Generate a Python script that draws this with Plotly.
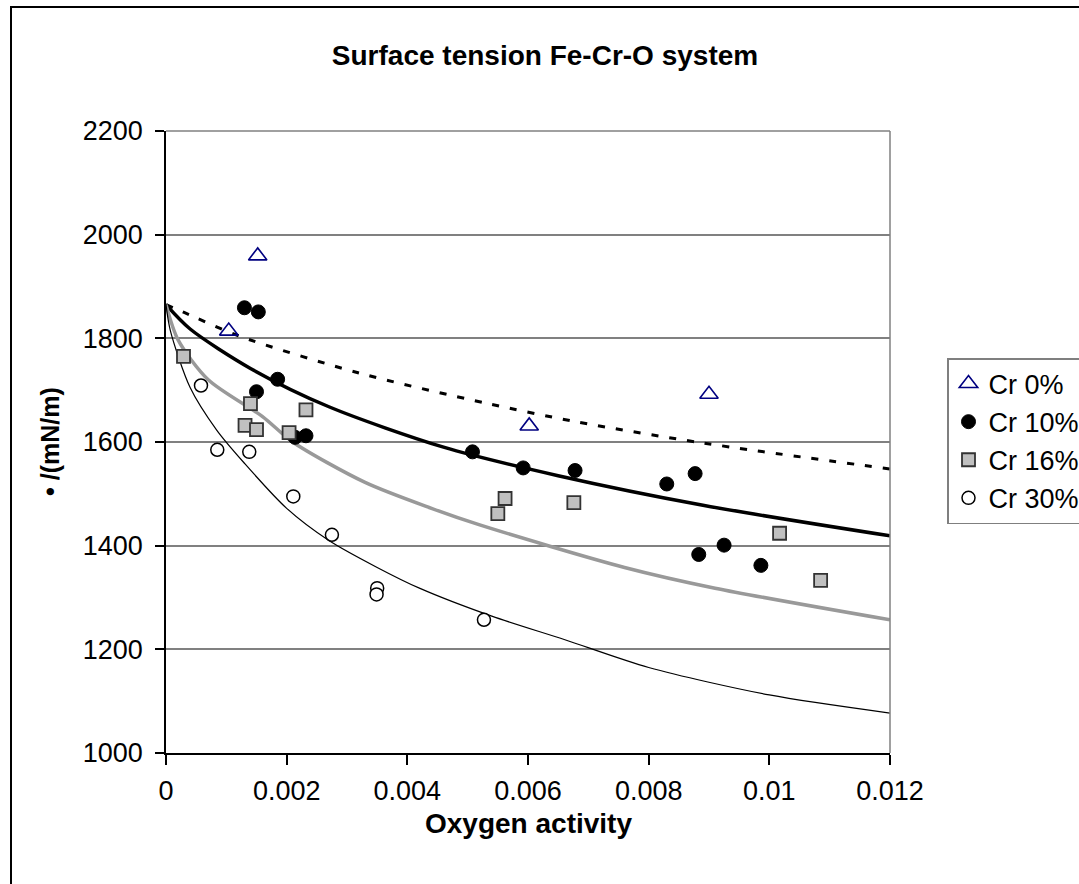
import plotly.graph_objects as go

# ---- data ----
cr0_x = [0.00104, 0.00152, 0.00602, 0.00900]
cr0_y = [1814, 1959, 1631, 1692]

cr10_x = [0.00130, 0.00153, 0.00185, 0.00150, 0.00232, 0.00214, 0.00508, 0.00592,
          0.00678, 0.00830, 0.00877, 0.00883, 0.00925, 0.00986]
cr10_y = [1859, 1851, 1721, 1697, 1612, 1609, 1581, 1550,
          1545, 1519, 1539, 1383, 1401, 1362]

cr16_x = [0.00029, 0.00140, 0.00232, 0.00131, 0.00150, 0.00204, 0.00562, 0.00550,
          0.00676, 0.01017, 0.01085]
cr16_y = [1765, 1674, 1662, 1632, 1624, 1618, 1491, 1462,
          1483, 1424, 1333]

cr30_x = [0.00058, 0.00085, 0.00138, 0.00211, 0.00275, 0.00350, 0.00349, 0.00527]
cr30_y = [1709, 1585, 1581, 1495, 1421, 1318, 1306, 1257]

# fitted curves
fit0_x = [0, 0.0003, 0.0012, 0.0032, 0.0053, 0.0068, 0.0089, 0.012]
fit0_y = [1865, 1850, 1805, 1733, 1675, 1639, 1598, 1548]

fit10_x = [0, 0.0004, 0.0014, 0.0027, 0.0046, 0.0065, 0.0089, 0.012]
fit10_y = [1865, 1818, 1742, 1668, 1590, 1535, 1478, 1419]

fit16_x = [0, 0.0002, 0.0007, 0.0016, 0.0021, 0.0033, 0.0044, 0.0052, 0.0076, 0.0091, 0.012]
fit16_y = [1865, 1797, 1720, 1649, 1600, 1522, 1472, 1440, 1358, 1318, 1257]

fit30_x = [0, 0.00007, 0.0004, 0.00084, 0.0013, 0.0020, 0.0027, 0.0035, 0.0042, 0.0054,
           0.0066, 0.0080, 0.0100, 0.0120]
fit30_y = [1865, 1816, 1705, 1623, 1559, 1472, 1410, 1358, 1318, 1264,
           1219, 1165, 1112, 1077]

x_ticks = [0, 0.002, 0.004, 0.006, 0.008, 0.01, 0.012]
x_tick_labels = ["0", "0.002", "0.004", "0.006", "0.008", "0.01", "0.012"]
y_ticks = [1000, 1200, 1400, 1600, 1800, 2000, 2200]

FONT = "Liberation Sans, Arial, sans-serif"

fig = go.Figure()

# curves
fig.add_trace(go.Scatter(x=fit0_x, y=fit0_y, mode="lines", showlegend=False,
                         line=dict(color="black", width=3, dash="7px,11px", shape="spline",
                                   smoothing=0.8), hoverinfo="skip"))
fig.add_trace(go.Scatter(x=fit10_x, y=fit10_y, mode="lines", showlegend=False,
                         line=dict(color="black", width=3.5, shape="spline", smoothing=0.8),
                         hoverinfo="skip"))
fig.add_trace(go.Scatter(x=fit16_x, y=fit16_y, mode="lines", showlegend=False,
                         line=dict(color="#999999", width=3.5, shape="spline", smoothing=0.8),
                         hoverinfo="skip"))
fig.add_trace(go.Scatter(x=fit30_x, y=fit30_y, mode="lines", showlegend=False,
                         line=dict(color="black", width=1.2, shape="spline", smoothing=0.8),
                         hoverinfo="skip"))

# data points
fig.add_trace(go.Scatter(x=cr0_x, y=cr0_y, mode="markers", name="Cr 0%",
                         marker=dict(symbol="triangle-up-open", size=16, color="#000080",
                                     line=dict(width=1.6, color="#000080"))))
fig.add_trace(go.Scatter(x=cr10_x, y=cr10_y, mode="markers", name="Cr 10%",
                         marker=dict(symbol="circle", size=14, color="black",
                                     line=dict(width=1, color="black"))))
fig.add_trace(go.Scatter(x=cr16_x, y=cr16_y, mode="markers", name="Cr 16%",
                         marker=dict(symbol="square", size=13, color="#C0C0C0",
                                     line=dict(width=1.8, color="#333333"))))
fig.add_trace(go.Scatter(x=cr30_x, y=cr30_y, mode="markers", name="Cr 30%",
                         marker=dict(symbol="circle", size=13, color="white",
                                     line=dict(width=1.5, color="black"))))

L, R, T, B = 166, 189, 131, 131
W, H = 1079, 884
pw, ph = W - L - R, H - T - B

def px(xp):
    return (xp - L) / pw

def py(yp):
    return (H - B - yp) / ph

fig.update_layout(
    width=W, height=H, autosize=False,
    margin=dict(l=L, r=R, t=T, b=B, pad=0, autoexpand=False),
    paper_bgcolor="white", plot_bgcolor="white",
    font=dict(family=FONT, color="black", size=27),
    title=dict(text="<b>Surface tension Fe-Cr-O system</b>", x=545 / W, xanchor="center",
               y=1 - 55 / H, yanchor="middle", xref="container", yref="container",
               font=dict(size=28, family=FONT, color="black")),
    showlegend=True,
    legend=dict(x=px(947), y=py(358), xanchor="left", yanchor="top",
                bgcolor="white", bordercolor="#7f7f7f", borderwidth=1.5,
                font=dict(size=27, family=FONT, color="black"), itemwidth=30,
                tracegroupgap=0),
    xaxis=dict(range=[0, 0.012], tickvals=x_ticks, ticktext=x_tick_labels,
               showgrid=False, zeroline=False, showline=True, linecolor="black",
               linewidth=1.5, ticks="outside", ticklen=10, tickwidth=1.5,
               tickcolor="black", tickfont=dict(size=27, family=FONT),
               ticklabelstandoff=3),
    yaxis=dict(range=[1000, 2200], tickvals=y_ticks, showgrid=True,
               gridcolor="#808080", gridwidth=1.5, zeroline=False, showline=True,
               linecolor="black", linewidth=1.5, ticks="outside", ticklen=9,
               tickwidth=1.5, tickcolor="black", tickfont=dict(size=27, family=FONT),
               ticklabelstandoff=7),
    annotations=[
        dict(text="<b>Oxygen activity</b>", x=0.5, y=py(823), xref="paper", yref="paper",
             xanchor="center", yanchor="middle", showarrow=False,
             font=dict(size=28, family=FONT, color="black")),
        dict(text="<b>• /(mN/m)</b>", x=px(50), y=0.5, xref="paper", yref="paper",
             xanchor="center", yanchor="middle", showarrow=False, textangle=-90,
             font=dict(size=25, family=FONT, color="black")),
    ],
    shapes=[
        dict(type="line", xref="paper", yref="paper", x0=1, x1=1, y0=0, y1=1,
             line=dict(color="#808080", width=1.5)),
        dict(type="line", xref="paper", yref="paper", x0=0, x1=1, y0=1, y1=1,
             line=dict(color="#808080", width=1.5)),
        dict(type="rect", xref="paper", yref="paper", x0=px(11), x1=px(1090),
             y0=py(895), y1=py(7), line=dict(color="black", width=2),
             fillcolor="rgba(0,0,0,0)", layer="above"),
    ],
)

fig.write_html("out.html")
